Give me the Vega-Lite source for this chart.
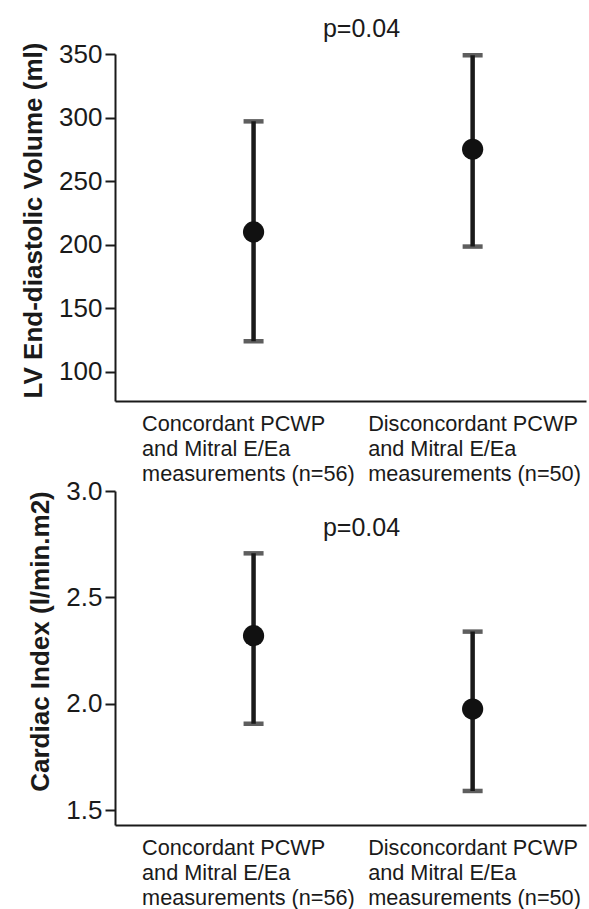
{
  "$schema": "https://vega.github.io/schema/vega-lite/v6.json",
  "background": "white",
  "padding": {"left": 20, "top": 17, "right": 4, "bottom": 4},
  "bounds": "flush",
  "spacing": 90,
  "config": {
    "font": "Liberation Sans",
    "view": {"stroke": null},
    "axis": {"domainColor": "#1a1a1a", "domainWidth": 2, "tickColor": "#1a1a1a", "tickWidth": 2, "labelColor": "#1a1a1a", "titleColor": "#1a1a1a", "grid": false}
  },
  "vconcat": [
    {
      "width": 471,
      "height": 347,
      "title": {"text": "p=0.04", "fontSize": 25, "fontWeight": "normal", "color": "#1a1a1a", "dx": 11, "offset": -1},
      "data": {"values": [
        {"group": "Concordant PCWP and Mitral E/Ea measurements (n=56)", "mean": 210, "lower": 124, "upper": 297},
        {"group": "Disconcordant PCWP and Mitral E/Ea measurements (n=50)", "mean": 275, "lower": 198.5, "upper": 349}
      ]},
      "encoding": {
        "x": {"field": "group", "type": "nominal", "sort": null,
          "scale": {"type": "point", "padding": 0.575, "align": 0.55},
          "axis": {"title": null, "ticks": false, "labelAngle": 0, "labelAlign": "left",
            "labelOffset": {"condition": {"test": "indexof(datum.label, 'Disc') == 0", "value": -105}, "value": -112},
            "labelBaseline": "top", "labelPadding": 12, "labelFontSize": 21.7, "labelLineHeight": 25, "labelLimit": 300, "labelOverlap": false,
            "labelExpr": "split(replace(replace(datum.label, ' and ', '~and '), ' measurements', '~measurements'), '~')"}}
      },
      "layer": [
        {"mark": {"type": "rule", "strokeWidth": 4.5, "color": "#1a1a1a"},
         "encoding": {
           "y": {"field": "lower", "type": "quantitative", "title": "LV End-diastolic Volume (ml)",
             "scale": {"domain": [77, 350], "nice": false, "zero": false},
             "axis": {"values": [100, 150, 200, 250, 300, 350], "tickSize": 10, "labelFontSize": 26, "labelPadding": 3, "titleFontSize": 26, "titleFontWeight": "bold", "titlePadding": 12, "titleY": 166}},
           "y2": {"field": "upper"}}},
        {"mark": {"type": "tick", "thickness": 4.5, "size": 20, "color": "#1a1a1a"},
         "encoding": {"y": {"field": "lower", "type": "quantitative", "title": "LV End-diastolic Volume (ml)"}}},
        {"mark": {"type": "tick", "thickness": 4.5, "size": 20, "color": "#1a1a1a"},
         "encoding": {"y": {"field": "upper", "type": "quantitative", "title": "LV End-diastolic Volume (ml)"}}},
        {"mark": {"type": "point", "shape": "circle", "filled": true, "size": 450, "color": "#111111", "opacity": 1},
         "encoding": {"y": {"field": "mean", "type": "quantitative", "title": "LV End-diastolic Volume (ml)"}}}
      ]
    },
    {
      "width": 471,
      "height": 334,
      "title": {"text": "p=0.04", "fontSize": 25, "fontWeight": "normal", "color": "#1a1a1a", "dx": 11, "offset": -63},
      "data": {"values": [
        {"group": "Concordant PCWP and Mitral E/Ea measurements (n=56)", "mean": 2.32, "lower": 1.906, "upper": 2.707},
        {"group": "Disconcordant PCWP and Mitral E/Ea measurements (n=50)", "mean": 1.975, "lower": 1.59, "upper": 2.339}
      ]},
      "encoding": {
        "x": {"field": "group", "type": "nominal", "sort": null,
          "scale": {"type": "point", "padding": 0.575, "align": 0.55},
          "axis": {"title": null, "ticks": false, "labelAngle": 0, "labelAlign": "left",
            "labelOffset": {"condition": {"test": "indexof(datum.label, 'Disc') == 0", "value": -105}, "value": -112},
            "labelBaseline": "top", "labelPadding": 12, "labelFontSize": 21.7, "labelLineHeight": 25, "labelLimit": 300, "labelOverlap": false,
            "labelExpr": "split(replace(replace(datum.label, ' and ', '~and '), ' measurements', '~measurements'), '~')"}}
      },
      "layer": [
        {"mark": {"type": "rule", "strokeWidth": 4.5, "color": "#1a1a1a"},
         "encoding": {
           "y": {"field": "lower", "type": "quantitative", "title": "Cardiac Index (l/min.m2)",
             "scale": {"domain": [1.43, 3.0], "nice": false, "zero": false},
             "axis": {"values": [1.5, 2.0, 2.5, 3.0], "format": ".1f", "tickSize": 10, "labelFontSize": 26, "labelPadding": 3, "titleFontSize": 26, "titleFontWeight": "bold", "titlePadding": 12, "titleY": 150}},
           "y2": {"field": "upper"}}},
        {"mark": {"type": "tick", "thickness": 4.5, "size": 20, "color": "#1a1a1a"},
         "encoding": {"y": {"field": "lower", "type": "quantitative", "title": "Cardiac Index (l/min.m2)"}}},
        {"mark": {"type": "tick", "thickness": 4.5, "size": 20, "color": "#1a1a1a"},
         "encoding": {"y": {"field": "upper", "type": "quantitative", "title": "Cardiac Index (l/min.m2)"}}},
        {"mark": {"type": "point", "shape": "circle", "filled": true, "size": 450, "color": "#111111", "opacity": 1},
         "encoding": {"y": {"field": "mean", "type": "quantitative", "title": "Cardiac Index (l/min.m2)"}}}
      ]
    }
  ]
}
